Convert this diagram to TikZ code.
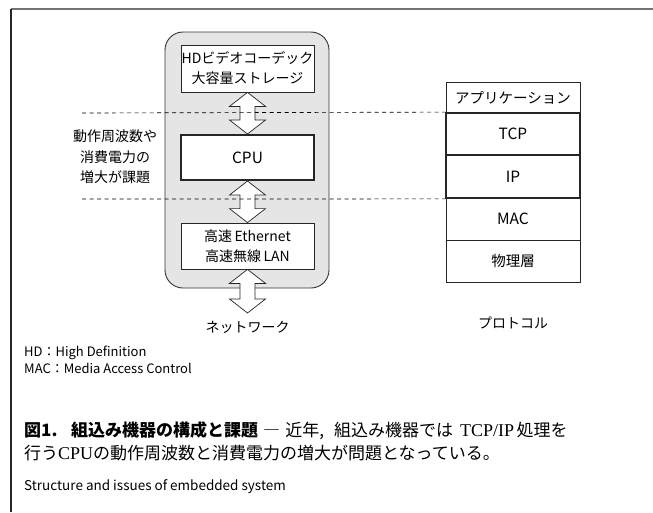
\documentclass[tikz,border=0pt]{standalone}
\usepackage{fontspec}
\setmainfont{Liberation Sans}
\newfontfamily\jp{Noto Sans CJK JP}
\newfontfamily\serifL{Liberation Serif}
\newcommand\hollowarrow[2]{%
  \draw[harrow] let \p1=(#1), \p2=(#2) in
    (\x1,\y1) -- (\x1+18pt,\y1-14pt) -- (\x1+7.5pt,\y1-14pt) -- (\x1+7.5pt,\y2+14pt)
    -- (\x1+18pt,\y2+14pt) -- (\x1,\y2) -- (\x1-18pt,\y2+14pt) -- (\x1-7.5pt,\y2+14pt)
    -- (\x1-7.5pt,\y1-14pt) -- (\x1-18pt,\y1-14pt) -- cycle;}
\usetikzlibrary{calc}
\begin{document}
\begin{tikzpicture}[x=1pt,y=-1pt,
  box/.style={draw=black!85, line width=0.8pt, fill=white, minimum width=133pt,
    inner sep=0pt, align=center, font=\jp\fontsize{14}{20}\selectfont},
  thickbox/.style={box, line width=2pt},
  layer/.style={draw=black!85, line width=0.8pt, minimum width=134pt, inner sep=0pt,
    align=center, font=\jp\fontsize{14.5}{20}\selectfont},
  thicklayer/.style={layer, line width=1.8pt},
  harrow/.style={draw=black!85, fill=white, line width=0.7pt, line join=miter},
  dashline/.style={draw=black, line width=0.65pt, dash pattern=on 4pt off 3.5pt},
  lbl/.style={inner sep=0pt, align=center, font=\jp\fontsize{14}{20.5}\selectfont},
  note/.style={inner sep=0pt, anchor=base west, font=\jp\fontsize{13}{16}\selectfont},
  captext/.style={inner sep=0pt, anchor=base west, font=\jp\fontsize{17}{20}\selectfont}]
\useasboundingbox (0,0) rectangle (653,512);
% frame
\coordinate (fl) at (11,9);
\coordinate (fr) at (653,9);
\coordinate (fb) at (11,512);
\draw[black!55, line width=1.6pt] (fl) -- (fr);
\draw[black!85, line width=1.1pt] (fl) -- (fb);
% system box
\node[draw=black!80, fill=black!10, line width=0.9pt, rounded corners=18pt,
  minimum width=164pt, minimum height=256pt] (sys) at (247,160) {};
\node[box, minimum height=47pt] (hd) at (247.5,68.5) {HDビデオコーデック\\大容量ストレージ};
\node[thickbox, minimum height=45pt, font=\jp\fontsize{15.5}{20}\selectfont] (cpu) at (247.5,157.5) {CPU};
\node[box, minimum height=46pt] (eth) at (247.5,246) {高速\,Ethernet\\高速無線\,LAN};
\coordinate (net) at (247.5,313);
\hollowarrow{hd.south}{cpu.north}
\hollowarrow{cpu.south}{eth.north}
\hollowarrow{eth.south}{net}
\node[lbl] (netl) at (247.5,327) {ネットワーク};
% protocol stack
\node[layer, minimum height=31pt] (app) at (513,97.5) {アプリケーション};
\node[layer, minimum height=42pt, font=\jp\fontsize{15.5}{20}\selectfont] (mac) at (513,219) {MAC};
\node[layer, minimum height=42pt] (phy) at (513,261) {物理層};
\node[thicklayer, minimum height=42pt, font=\jp\fontsize{15.5}{20}\selectfont] (tcp) at (513,134) {TCP};
\node[thicklayer, minimum height=43pt, font=\jp\fontsize{15.5}{20}\selectfont] (ip) at (513,176.5) {IP};
\node[lbl] (prot) at (513,323) {プロトコル};
% issue label and dashed lines
\node[lbl] (issue) at (115,157) {動作周波数や\\消費電力の\\増大が課題};
\coordinate (d1) at (82,113);
\coordinate (d2) at (82,199);
\draw[dashline] (d1) -- (tcp.north west);
\draw[dashline] (d2) -- (ip.south west);
% notes
\node[note] (n1) at (24,356) {HD：High Definition};
\node[note] (n2) at (24,373) {MAC：Media Access Control};
\node[captext] (c1) at (24,436) {{\bfseries 図1.\hspace{0.8em}組込み機器の構成と課題}\hspace{0.3em}―\hspace{0.3em}近年,\hspace{0.6em}組込み機器では\hspace{0.4em}{\serifL\fontsize{18}{20}\selectfont TCP/IP}\hspace{0.15em}処理を};
\node[captext] (c2) at (24,459) {行う{\serifL\fontsize{18}{20}\selectfont CPU}の動作周波数と消費電力の増大が問題となっている。};
\node[note, font=\jp\fontsize{13.5}{16}\selectfont] (en) at (24,490) {Structure and issues of embedded system};
\end{tikzpicture}
\end{document}
